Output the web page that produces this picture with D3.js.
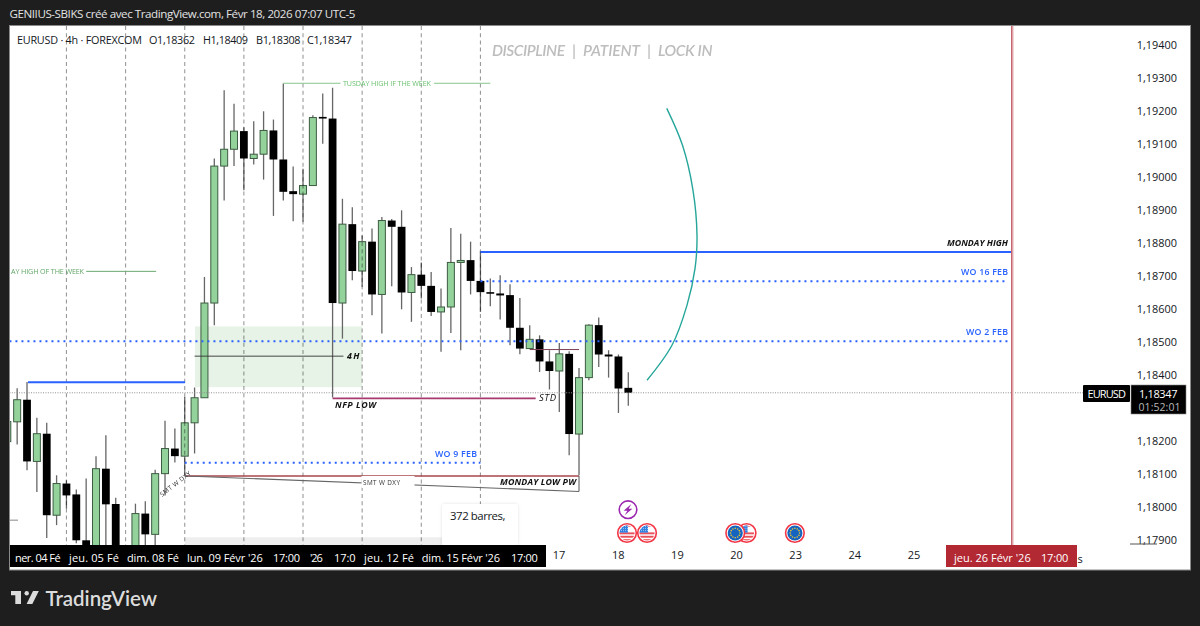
<!DOCTYPE html>
<html><head><meta charset="utf-8">
<style>html,body{margin:0;padding:0;background:#1e1e1e}svg{display:block}</style>
<script src="https://cdn.jsdelivr.net/npm/d3@7/dist/d3.min.js"></script>
</head><body><svg id="c" width="1200" height="626"></svg>
<script>
// ---------- data (prices scaled by 1e5) ----------
const opens  = [118199,118259,118326,118139,118223,117976,118072,118039,117900,117830,118117,118010,117850,117820,117981,117918,118102,118178,118155,118256,118332,118619,119034,119085,119140,119057,119070,119142,119054,118958,118949,118975,119183,119178,118619,118858,118716,118805,118645,118869,118850,118651,118705,118671,118592,118607,118742,118749,118686,118652,118648,118643,118544,118481,118509,118442,118413,118465,118222,118393,118552,118463,118457,118362];
const highs  = [118294,118361,118380,118271,118256,118097,118082,118054,118087,118155,118218,118029,117860,118011,118018,118114,118262,118239,118334,118363,118698,119057,119264,119223,119152,119170,119200,119175,119284,119033,119026,119188,119254,119271,118935,118909,118824,118845,118880,118874,118900,118728,118742,118713,118663,118846,118829,118805,118776,118693,118703,118676,118634,118552,118521,118476,118498,118473,118422,118555,118575,118476,118463,118409];
const lows   = [118173,118190,118112,118046,117907,117946,117996,117891,117790,117800,117850,117810,117770,117800,117850,117860,118036,118136,118097,118163,118332,118552,118930,119034,118961,119039,118993,118883,118930,118867,118865,118975,119102,118333,118511,118688,118668,118582,118527,118670,118600,118562,118633,118580,118471,118528,118476,118645,118592,118609,118569,118491,118464,118481,118410,118357,118289,118158,118097,118385,118425,118393,118286,118308];
const closes = [118260,118326,118139,118223,117976,118072,118036,117900,117820,118117,118009,117840,117790,117981,117918,118102,118178,118155,118256,118332,118619,119034,119085,119140,119057,119070,119142,119054,118956,118949,118975,119181,119178,118619,118858,118716,118805,118645,118869,118850,118651,118705,118671,118592,118607,118742,118748,118686,118652,118648,118642,118544,118481,118509,118442,118413,118465,118222,118393,118552,118463,118457,118360,118347];
const priceTicks = [119400,119300,119200,119100,119000,118900,118800,118700,118600,118500,118400,118200,118100,118000,117900];
const lastPrice = 118347, lastTimer = "01:52:01", symbol = "EURUSD";
const gridBars = [6,12,18,24,30,36,42,48];
const dayBars = [56,62,68,74,80,86,92], dayLabels = ["17","18","19","20","23","24","25"];
const blackBarLabels = ["ner. 04 Fé","jeu. 05 Fé","dim. 08 Fé","lun. 09 Févr '26","17:00","'26","17:0","jeu. 12 Fé","dim. 15 Févr '26","17:00"];
const blackBarStarts = [0.78,6.26,12.14,18.23,26.95,30.7,33.14,36.19,42.04,51.1];
const markerBar = 101.9, markerLabels = ["jeu. 26 Févr '26","17:00"];
const arcBars   = [66.9,68.5,69.56,69.97,69.77,68.95,67.43,64.9];
const arcPrices = [119209,119097,118961,118824,118724,118612,118491,118385];
const eventBars = [62.87,64.9,75,73.85,79.9], eventKinds = ["US","US","US","EU","EU"];
const headerText = "GENIIUS-SBIKS créé avec TradingView.com, Févr 18, 2026 07:07 UTC-5";
const legendTexts = ["EURUSD · 4h · FOREXCOM","O1,18362","H1,18409","B1,18308","C1,18347"];
const titleWords = ["DISCIPLINE","|","PATIENT","|","LOCK IN"];

// ---------- scales ----------
const x = d3.scaleLinear().domain([0,63]).range([7.3,628.3]);
const y = d3.scaleLinear().domain([117900,119400]).range([540.3,45.3]);
const svg = d3.select("#c");
const FONT = "'Open Sans','Noto Sans',sans-serif", LATO="Lato,'Open Sans',sans-serif";
const defs = svg.append("defs");
defs.append("clipPath").attr("id","plot").append("rect").attr("x",10).attr("y",26).attr("width",1180).attr("height",519);
defs.append("filter").attr("id","sh").attr("x","-10%").attr("y","-10%").attr("width","120%").attr("height","120%")
  .append("feDropShadow").attr("dx",0).attr("dy",0).attr("stdDeviation",1.5).attr("flood-color","#000").attr("flood-opacity",0.12);

// frame
svg.append("rect").attr("width",1200).attr("height",626).attr("fill","#1e1e1e");
svg.append("rect").attr("x",9.5).attr("y",25.5).attr("width",1181).attr("height",544.5).attr("fill","#fff").attr("stroke","#8a8a8a");
const text=(g,s,px,py,o={})=>{const t=g.append("text").attr("x",px).attr("y",py).attr("dominant-baseline","central")
  .attr("font-family",o.font||FONT).attr("font-size",o.size||11).attr("fill",o.fill||"#131722").attr("text-anchor",o.anchor||"start")
  .attr("font-weight",o.weight||400).attr("font-style",o.style||"normal").text(s);
  if(o.len)t.attr("textLength",o.len).attr("lengthAdjust","spacing"); return t;};

// header
text(svg,headerText,9.5,13,{fill:"#e2e2e2",size:11.6,len:346});
// logo
const lg=svg.append("g").attr("fill","#dcdcdc");
lg.append("path").attr("d","M11 591H21V604H15.3V595.2H11Z");
lg.append("circle").attr("cx",26.7).attr("cy",593.2).attr("r",2.2);
lg.append("path").attr("d","M33 591H38.8L32.3 604H26.6Z");
text(svg,"TradingView",45.5,598,{fill:"#dcdcdc",size:20.5,weight:600,font:LATO,len:111.5});

const plot=svg.append("g").attr("clip-path","url(#plot)");
// shaded zones
plot.append("rect").attr("x",x(19.04)).attr("y",y(118548)).attr("width",x(36)-x(19.04)).attr("height",y(118364)-y(118548)).attr("fill","#e6f3e6");
plot.append("rect").attr("x",x(18)).attr("y",y(117909)).attr("width",x(44.1)-x(18)).attr("height",y(117800)-y(117909)).attr("fill","#eeeeee");

// candles
const idx=d3.range(opens.length);
plot.append("g").selectAll("line").data(idx).join("line").attr("x1",i=>x(i)).attr("x2",i=>x(i))
  .attr("y1",i=>y(highs[i])).attr("y2",i=>y(lows[i])).attr("stroke","#666").attr("stroke-width",1.3);
plot.append("g").selectAll("rect").data(idx).join("rect")
  .attr("x",i=>x(i)-(closes[i]>=opens[i]?3.5:3.9))
  .attr("width",i=>closes[i]>=opens[i]?7:7.8)
  .attr("y",i=>y(Math.max(opens[i],closes[i])))
  .attr("height",i=>Math.max(1.6,Math.abs(y(opens[i])-y(closes[i]))))
  .attr("fill",i=>closes[i]>=opens[i]?"#94d29b":"#000")
  .attr("stroke",i=>closes[i]>=opens[i]?"#3d5c42":"none").attr("stroke-width",1);

// dashed verticals
plot.append("g").style("mix-blend-mode","multiply").selectAll("line").data(gridBars).join("line")
  .attr("x1",d=>x(d)).attr("x2",d=>x(d)).attr("y1",26).attr("y2",545)
  .attr("stroke","#9a9a9a").attr("stroke-width",1.1).attr("stroke-dasharray","4,3.2");

const hline=(p,b0,b1,c,w,dash)=>{const l=plot.append("line").attr("x1",x(b0)).attr("x2",x(b1)).attr("y1",y(p)).attr("y2",y(p)).attr("stroke",c).attr("stroke-width",w);
  if(dash)l.attr("stroke-dasharray",dash);return l;};
const BLUE="#2962ff";
hline(lastPrice,-1,110.8,"#8f8f8f",1,"1,1.4");
hline(118379,2.1,18.03,BLUE,2);
hline(118774,48,101.9,BLUE,2);
hline(118503,-1,101.5,BLUE,2,"2,4");
hline(118685,48,101.5,BLUE,2,"2,4");
hline(118135,18,48,BLUE,2,"2,4");
hline(118330,33,53.6,"#a83a6e",1.6);
hline(118095,18.1,58,"#a8474d",1.4);
hline(118478,53,58,"#7a3f50",1);
hline(118458,19,34.1,"#333",0.9);
hline(119285,28,33.8,"#86c58b",1);
hline(119285,43.3,49,"#86c58b",1);
hline(118715,8,15.1,"#6aa96f",1);
plot.append("line").attr("x1",x(58)).attr("x2",x(58)).attr("y1",y(118095)).attr("y2",y(118048)).attr("stroke","#555").attr("stroke-width",1);
plot.append("line").attr("x1",x(18.1)).attr("x2",x(58)).attr("y1",y(118095)).attr("y2",y(118048)).attr("stroke","#666").attr("stroke-width",1.1);
plot.append("rect").attr("x",361.5).attr("y",476).attr("width",53).attr("height",12).attr("fill","#fff");

// teal arc
plot.append("path").attr("fill","none").attr("stroke","#26a69a").attr("stroke-width",1.4)
  .attr("d",d3.line().x((d,i)=>x(arcBars[i])).y(d=>y(d)).curve(d3.curveCatmullRom)(arcPrices));

// marker vertical
plot.append("line").attr("x1",x(markerBar)+0.8).attr("x2",x(markerBar)+0.8).attr("y1",26).attr("y2",545).attr("stroke","#f2d6d8").attr("stroke-width",3);
plot.append("line").attr("x1",x(markerBar)).attr("x2",x(markerBar)).attr("y1",26).attr("y2",545).attr("stroke","#c4616d").attr("stroke-width",1.4);

// annotation texts
text(plot,"TUSDAY HIGH IF THE WEEK",343,83,{fill:"#6cc070",size:7.2,len:88});
text(plot,"AY HIGH OF THE WEEK",11,271,{fill:"#63a768",size:7.2,len:73});
const bi={weight:700,style:"italic",fill:"#111",size:8.8};
text(plot,"4H",347,356,{...bi,len:12.5});
text(plot,"NFP LOW",335,405,{...bi,len:41});
text(plot,"STD",539,397,{...bi,len:17,weight:400,size:9.5});
text(plot,"MONDAY LOW PW",500,482,{...bi,len:76});
text(plot,"MONDAY HIGH",947,243,{...bi,len:61});
text(plot,"SMT W DXY",363,482,{size:6.4,fill:"#333",len:37});
text(plot,"SMT W DXY",0,0,{size:6.4,fill:"#333",len:37}).attr("transform","translate(160.5,495) rotate(-38)");
const bl={fill:BLUE,size:8.8,weight:600};
text(plot,"WO 2 FEB",966,332,{...bl,len:42});
text(plot,"WO 16 FEB",961,272,{...bl,len:47});
text(plot,"WO 9 FEB",435,454,{...bl,len:42});
const titleSpans=[[492,73],[572,2.5],[583,57],[647,2.5],[658,54.5]];
titleWords.forEach((w,i)=>text(plot,w,titleSpans[i][0],49.5,{fill:"#bdbdbd",size:15.5,weight:600,style:"italic",font:LATO,len:w==="|"?null:titleSpans[i][1]}));

// legend
[[17,125],[149,46],[203,45],[256,44.5],[307,45]].forEach((p,i)=>text(svg,legendTexts[i],p[0],39,{size:10.8,len:p[1]}));

// tooltip
svg.append("rect").attr("x",442).attr("y",504).attr("width",76).attr("height",41).attr("rx",3).attr("fill","#fff").attr("filter","url(#sh)");
text(svg,"372 barres,",450,515.5,{size:11.4,len:55.5});

// events
defs.append("clipPath").attr("id","fc").append("circle").attr("r",7.6);
const ev=svg.append("g");
const drawEvent=(cx,cy,kind)=>{
  const g=ev.append("g").attr("transform",`translate(${cx},${cy})`);
  g.append("circle").attr("r",9.3).attr("fill","#fff").attr("stroke","#f23645").attr("stroke-width",1.6);
  const f=g.append("g").attr("clip-path","url(#fc)");
  if(kind==="US"){
    f.append("rect").attr("x",-8).attr("y",-8).attr("width",16).attr("height",16).attr("fill","#fff");
    d3.range(3).forEach(k=>f.append("rect").attr("x",-8).attr("y",-0.6+k*3.4).attr("width",16).attr("height",1.9).attr("fill","#e8505a"));
    f.append("rect").attr("x",-8).attr("y",-8).attr("width",16).attr("height",1.6).attr("fill","#e8505a");
    f.append("rect").attr("x",-8).attr("y",-8).attr("width",9).attr("height",7.6).attr("fill","#2f7fe0");
    d3.range(3).forEach(k=>f.append("line").attr("x1",-8).attr("x2",1).attr("y1",-6.4+k*2).attr("y2",-6.4+k*2).attr("stroke","#cfe2fb").attr("stroke-width",0.7).attr("stroke-dasharray","1,1"));
  }else{
    f.append("rect").attr("x",-8).attr("y",-8).attr("width",16).attr("height",16).attr("fill","#1565c0");
    d3.range(12).forEach(k=>{const a=k/12*2*Math.PI;f.append("circle").attr("cx",4.7*Math.cos(a)).attr("cy",4.7*Math.sin(a)).attr("r",0.8).attr("fill","#f4c430");});
  }
};
eventBars.forEach((b,i)=>drawEvent(x(b),533,eventKinds[i]));
const pg=svg.append("g").attr("transform",`translate(${x(62.97)},509.7)`);
pg.append("circle").attr("r",8.8).attr("fill","#fff").attr("stroke","#9c27b0").attr("stroke-width",1.6);
pg.append("path").attr("d","M3.4-5.6L-4.4 1H-0.6L-3.4 5.6L4.4-1H0.6Z").attr("fill","#9c27b0");

// time axis
svg.append("rect").attr("x",10).attr("y",545).attr("width",536).attr("height",22).attr("fill","#000");
const barWidths=[45.7,50,52,75.7,27,13,21.7,50,78.3,26.7];
blackBarLabels.forEach((s,i)=>text(svg,s,x(blackBarStarts[i]),557.5,{fill:"#fff",size:11,weight:500,len:barWidths[i]}));
const axisB=d3.axisBottom(x).tickValues(dayBars).tickSize(0).tickFormat((d,i)=>dayLabels[i]);
const gb=svg.append("g").attr("transform","translate(-0.7,552.5)").call(axisB);
gb.select(".domain").remove();
gb.selectAll("text").attr("font-family",FONT).attr("font-size",11).attr("fill","#131722").attr("y",0).attr("dy","0.62em");
text(svg,"s",1077.5,558,{size:11});
svg.append("rect").attr("x",946).attr("y",545).attr("width",131).attr("height",22).attr("fill","#b22833");
text(svg,markerLabels[0],954,557.5,{fill:"#fff",size:11,weight:500,len:76.7});
text(svg,markerLabels[1],1041,557.5,{fill:"#fff",size:11,weight:500,len:27.3});

// price axis
const fmtP=d=>(d/1e5).toFixed(5).replace(".",",");
const axisR=d3.axisRight(y).tickValues(priceTicks).tickSize(0).tickFormat(fmtP);
const gr=svg.append("g").attr("transform","translate(1177,-0.3)").call(axisR);
gr.select(".domain").remove();
gr.selectAll("text").attr("x",0).attr("text-anchor","end").attr("font-family",FONT).attr("font-size",10.9).attr("fill","#131722");
svg.append("line").attr("x1",1130).attr("x2",1157).attr("y1",544).attr("y2",544).attr("stroke","#555");
svg.append("line").attr("x1",10).attr("x2",18).attr("y1",y(117961)).attr("y2",y(117961)).attr("stroke","#888");
// last price labels
svg.append("rect").attr("x",1083).attr("y",385).attr("width",47).attr("height",17).attr("fill","#000").attr("rx",1);
text(svg,symbol,1087.5,393.5,{fill:"#fff",size:11,len:38.5});
svg.append("rect").attr("x",1131).attr("y",385).attr("width",55).attr("height",29).attr("fill","#000").attr("stroke","#888").attr("stroke-width",0.6);
text(svg,fmtP(lastPrice),1139,393.5,{fill:"#fff",size:11,len:38.5});
text(svg,lastTimer,1138.5,406.5,{fill:"#b8b8b8",size:10.5,len:42});
</script></body></html>
